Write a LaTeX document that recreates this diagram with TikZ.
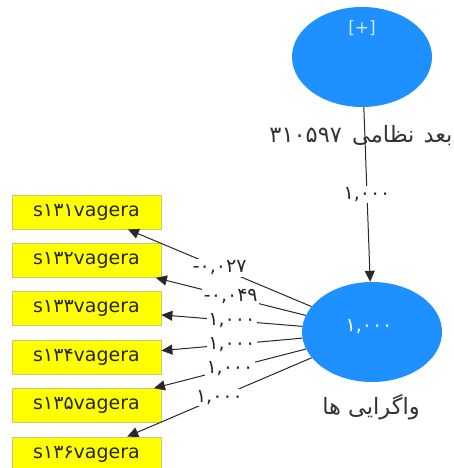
\documentclass[tikz,border=0pt]{standalone}
\usepackage{fontspec}
\setmainfont{DejaVu Sans}
\newfontfamily\arabicfont[Script=Arabic]{DejaVu Sans}
\TeXXeTstate=1
\usetikzlibrary{arrows.meta,shapes.geometric}
\definecolor{lvblue}{RGB}{30,144,255}
\definecolor{boxyellow}{RGB}{255,255,0}
\definecolor{boxborder}{RGB}{200,200,110}
\definecolor{linegray}{RGB}{40,40,40}
\begin{document}
\begin{tikzpicture}[x=1pt,y=-1pt,
  latent/.style={ellipse, fill=lvblue, minimum width=140pt, minimum height=100pt, inner sep=0pt},
  indicator/.style={rectangle, fill=boxyellow, draw=boxborder, line width=0.8pt, minimum width=149pt, minimum height=34pt, inner sep=0pt, font=\fontsize{19}{21}\selectfont, text=black!85},
  conn/.style={draw=linegray, line width=1pt, -{Triangle[length=11pt,width=10pt]}},
  wlabel/.style={fill=white, inner sep=1.5pt, font=\fontsize{19}{21}\selectfont, text=black!85},
  innertext/.style={text=white, font=\fontsize{19}{21}\selectfont},
  captext/.style={font=\arabicfont\fontsize{22.5}{24}\selectfont, text=black!80},
]
\useasboundingbox (0,0) rectangle (453,468);

\node[latent] (top) at (362,57) {};
\node[innertext, text=white!80!lvblue, font=\fontsize{17}{19}\selectfont] (plus) at (362,28) {[+]};
\node[captext] (toplabel) at (361,136) {\beginR بعد\hspace{2pt} نظامی\hspace{3pt} \beginL۳۱۰۵۹۷\endL\endR};

\node[latent] (bot) at (372,332) {};
\node[innertext] (botval) at (369,327) {۱,۰۰۰};
\node[captext] (botlabel) at (371,407) {\beginR واگرایی ها\endR};

\node[indicator] (s1) at (86.5,212) {s۱۳۱vagera};
\node[indicator] (s2) at (86.5,260.4) {s۱۳۲vagera};
\node[indicator] (s3) at (86.5,308.8) {s۱۳۳vagera};
\node[indicator] (s4) at (86.5,357.2) {s۱۳۴vagera};
\node[indicator] (s5) at (86.5,405.6) {s۱۳۵vagera};
\node[indicator] (s6) at (86.5,454) {s۱۳۶vagera};

\draw[conn] (top) -- node[wlabel] {۱,۰۰۰} (bot);
\draw[conn] (bot) -- node[wlabel] {-۰,۰۲۷} (s1);
\draw[conn] (bot) -- node[wlabel] {-۰,۰۴۹} (s2);
\draw[conn] (bot) -- node[wlabel] {۱,۰۰۰} (s3);
\draw[conn] (bot) -- node[wlabel] {۱,۰۰۰} (s4);
\draw[conn] (bot) -- node[wlabel] {۱,۰۰۰} (s5);
\draw[conn] (bot) -- node[wlabel] {۱,۰۰۰} (s6);
\end{tikzpicture}
\end{document}
